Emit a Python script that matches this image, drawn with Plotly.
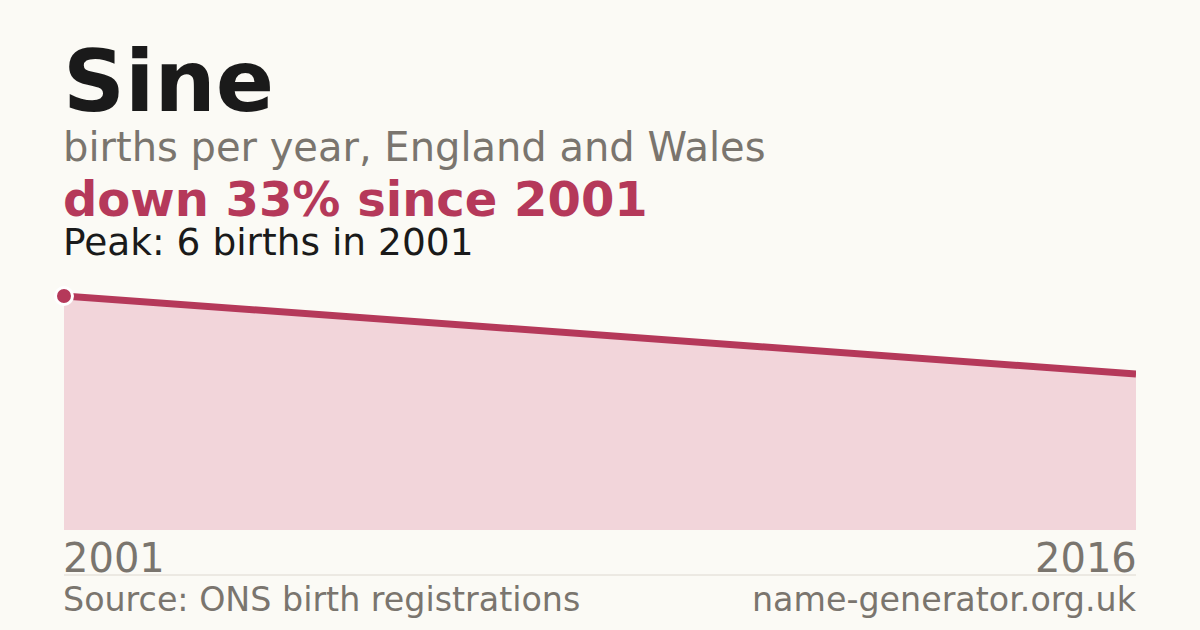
import plotly.graph_objects as go

# data
years = [2001, 2016]
births = [6, 4]
name = "Sine"
subtitle = "births per year, England and Wales"
change_text = "down 33% since 2001"
peak_text = "Peak: 6 births in 2001"
source_text = "Source: ONS birth registrations"
site_text = "name-generator.org.uk"

W, H = 1200, 630
top, bottom = 270, 530  # plot area in pixels
peak_px = 296           # where the peak value sits
FONT = "DejaVu Sans"
RED = "#b5395a"
GREY = "#7a756e"
BG = "#fbfaf5"


def py(y):
	# pixel row -> paper coordinate
	return (bottom - y) / (bottom - top)


ymax = max(births) * (bottom - top) / (bottom - peak_px)

fig = go.Figure()
fig.add_trace(go.Scatter(
	x=years, y=births,
	mode="lines",
	line=dict(color=RED, width=7),
	fill="tozeroy",
	fillcolor="#f2d5da",
	hoverinfo="skip",
))
fig.add_trace(go.Scatter(
	x=[years[0]], y=[births[0]],
	mode="markers",
	marker=dict(size=17, color=RED, line=dict(color="white", width=3)),
	cliponaxis=False,
	hoverinfo="skip",
))

annots = [
	dict(text="<b>" + name + "</b>", y=py(133), size=86, color="#1a1a1a"),
	dict(text=subtitle, y=py(172), size=40, color=GREY),
	dict(text="<b>" + change_text + "</b>", y=py(229), size=48, color=RED),
	dict(text=peak_text, y=py(266), size=37.5, color="#1a1a1a"),
]
for a in annots:
	fig.add_annotation(
		text=a["text"], xref="paper", yref="paper", x=0, y=a["y"], xshift=-3,
		xanchor="left", yanchor="bottom", showarrow=False,
		font=dict(family=FONT, size=a["size"], color=a["color"]),
	)

# year labels under the area
fig.add_annotation(text=str(years[0]), xref="x", yref="paper", x=years[0], y=py(583), xshift=-3,
	xanchor="left", yanchor="bottom", showarrow=False,
	font=dict(family=FONT, size=40, color=GREY))
fig.add_annotation(text=str(years[-1]), xref="x", yref="paper", x=years[-1], y=py(583), xshift=3,
	xanchor="right", yanchor="bottom", showarrow=False,
	font=dict(family=FONT, size=40, color=GREY))

# footer
fig.add_annotation(text=source_text, xref="paper", yref="paper", x=0, y=py(621), xshift=-3,
	xanchor="left", yanchor="bottom", showarrow=False,
	font=dict(family=FONT, size=33.3, color=GREY))
fig.add_annotation(text=site_text, xref="paper", yref="paper", x=1, y=py(621), xshift=3,
	xanchor="right", yanchor="bottom", showarrow=False,
	font=dict(family=FONT, size=33.3, color=GREY))

fig.add_shape(type="line", xref="paper", yref="paper", x0=0, x1=1, y0=py(575), y1=py(575),
	line=dict(color="#ddd8d0", width=1))

fig.update_layout(
	width=W, height=H,
	margin=dict(l=64, r=64, t=top, b=H - bottom),
	paper_bgcolor=BG,
	plot_bgcolor=BG,
	showlegend=False,
	xaxis=dict(range=[years[0], years[-1]], visible=False),
	yaxis=dict(range=[0, ymax], visible=False),
)

fig.write_html(
	"out.html",
	config={"displayModeBar": False},
	post_script="document.body.style.margin='0';document.body.style.background='" + BG + "';",
)
